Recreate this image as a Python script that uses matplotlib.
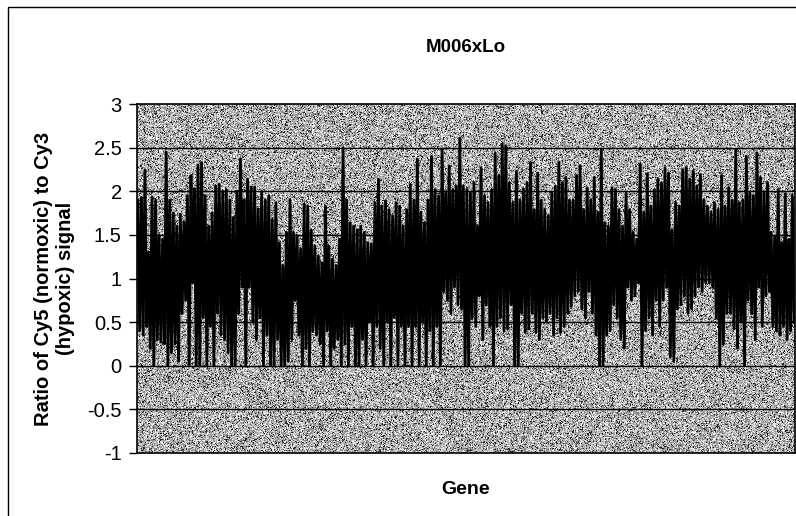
import numpy as np
import matplotlib
matplotlib.use("Agg")
import matplotlib.pyplot as plt
from matplotlib.patches import Rectangle

plt.rcParams['font.family'] = ['Liberation Sans', 'DejaVu Sans']

title = "M006xLo"
x_label = "Gene"
y_label = "Ratio of Cy5 (normoxic) to Cy3\n(hypoxic) signal"
y_ticks = [-1, -0.5, 0, 0.5, 1, 1.5, 2, 2.5, 3]
y_tick_labels = ["-1", "-0.5", "0", "0.5", "1", "1.5", "2", "2.5", "3"]

# ratio peaks / troughs, read in blocks along the gene axis
highs_a = [1.90, 1.93, 2.24, 1.30, 1.93, 1.90, 1.50, 1.45, 2.45, 1.90, 1.75, 1.60, 1.73, 1.65, 1.95, 2.18,
           2.03, 2.30, 2.33, 1.95, 1.60, 1.75, 2.06, 2.08, 2.00, 2.02, 1.90, 1.70, 2.00, 2.37, 1.90]
lows_a = [0.40, 0.35, 0.45, 0.20, 0.00, 0.30, 0.27, 0.25, 0.00, 0.15, 0.25, 0.05, 0.60, 0.75, 0.00, 0.95,
          0.00, 0.00, 0.55, 0.00, 0.45, 0.00, 0.60, 0.35, 0.30, 0.15, 0.00, 0.00, 0.60, 0.90, 0.00]

highs_b = [2.14, 2.05, 2.05, 1.80, 2.00, 1.90, 1.95, 1.68, 1.87, 1.41, 1.15, 1.53, 1.90, 1.53, 1.49, 1.34,
           1.85, 1.83, 1.56, 1.37, 1.26, 1.18, 1.83, 1.37, 1.22, 1.15, 1.45, 2.50, 1.90, 1.64, 1.60]
lows_b = [0.90, 0.50, 0.30, 0.55, 0.00, 0.35, 0.00, 0.00, 0.30, 0.00, 0.00, 0.05, 0.30, 0.75, 0.35, 0.00,
          0.20, 0.00, 0.40, 0.35, 0.25, 0.00, 0.40, 0.00, 0.20, 0.30, 0.00, 0.25, 0.00, 0.45, 0.00]

highs_c = [1.56, 1.60, 1.53, 1.41, 1.40, 1.87, 2.14, 1.83, 1.89, 1.79, 1.72, 1.87, 1.83, 1.60, 1.79, 2.08,
           1.90, 2.37, 1.76, 1.64, 1.90, 2.40, 2.02, 1.95, 2.48, 1.98, 2.29, 2.02, 2.06, 2.61, 2.06]
lows_c = [0.00, 0.30, 0.00, 0.50, 0.00, 0.45, 0.20, 0.00, 0.50, 0.00, 0.55, 0.00, 0.45, 0.00, 0.45, 0.00,
          0.45, 0.00, 0.50, 0.00, 0.40, 0.00, 0.45, 0.00, 0.85, 0.75, 0.60, 0.90, 0.70, 0.65, 0.00]

highs_d = [2.02, 1.98, 2.10, 1.60, 2.27, 1.95, 1.87, 2.02, 2.44, 2.18, 2.54, 2.52, 2.10, 1.87, 2.23, 1.90,
           2.02, 2.10, 2.33, 1.79, 2.21, 1.90, 1.79, 1.72, 1.98, 2.06, 2.33, 2.10, 2.16, 1.90, 1.90]
lows_d = [0.00, 0.55, 0.45, 0.80, 0.30, 0.70, 0.45, 0.00, 0.45, 0.55, 0.40, 0.42, 0.70, 0.00, 0.00, 0.60,
          0.38, 0.42, 0.60, 0.38, 0.30, 0.55, 0.50, 0.60, 0.35, 0.55, 0.38, 0.45, 0.60, 0.68, 0.80]

highs_e = [2.18, 2.29, 1.79, 2.04, 1.90, 2.16, 1.76, 2.48, 1.64, 1.60, 2.04, 2.02, 1.79, 1.60, 1.98, 1.79,
           1.53, 1.45, 2.31, 1.76, 2.20, 1.83, 2.02, 2.14, 2.10, 2.27, 2.21, 1.56, 1.87, 1.83, 2.25]
lows_e = [0.85, 0.65, 0.55, 0.85, 0.60, 0.35, 0.00, 0.00, 0.35, 0.40, 0.70, 0.55, 0.30, 0.20, 0.90, 0.75,
          0.80, 0.95, 0.00, 0.40, 0.55, 0.35, 0.75, 0.45, 0.75, 0.90, 0.10, 0.05, 0.65, 0.70, 0.80]

highs_f = [2.27, 2.14, 2.23, 2.06, 2.19, 1.90, 1.83, 1.76, 1.87, 1.79, 2.18, 1.83, 2.04, 1.90, 2.48, 1.87,
           1.90, 2.40, 1.98, 1.95, 2.44, 2.16, 1.98, 2.10, 1.53, 1.49, 2.02, 1.41, 1.97, 1.45, 1.95]
lows_f = [0.60, 0.65, 0.80, 0.90, 0.85, 0.95, 0.95, 0.90, 0.55, 0.00, 0.25, 0.60, 0.60, 0.42, 0.20, 0.50,
          0.00, 0.75, 0.60, 0.30, 0.90, 0.45, 0.80, 0.85, 0.45, 0.40, 0.35, 0.45, 0.30, 0.40, 0.50]

highs = highs_a + highs_b + highs_c + highs_d + highs_e + highs_f
lows = lows_a + lows_b + lows_c + lows_d + lows_e + lows_f
ratio = np.column_stack([highs, lows]).ravel()
genes = np.arange(len(ratio))

fig = plt.figure(figsize=(7.96, 5.16), dpi=100)
fig.patch.set_facecolor("white")
ax = fig.add_axes([137 / 796, 1 - 453 / 516, 658 / 796, 349 / 516])

# grainy grey plot-area fill
rng = np.random.default_rng(3)
grain = rng.choice([0.15, 0.5, 0.65, 0.8, 0.95], size=(349, 658), p=[0.12, 0.2, 0.28, 0.22, 0.18])
ax.imshow(grain, cmap="gray", vmin=0, vmax=1, extent=(-0.5, len(ratio) - 0.5, -1, 3),
          aspect="auto", interpolation="nearest", zorder=0)

for yv in y_ticks[1:-1]:
    ax.axhline(yv, color="black", lw=1.0, zorder=1)

ax.plot(genes, ratio, color="black", lw=2.0, zorder=2)

ax.set_xlim(-0.5, len(ratio) - 0.5)
ax.set_ylim(-1, 3)
ax.set_yticks(y_ticks)
ax.set_yticklabels(y_tick_labels, fontsize=14.5)
ax.set_xticks([])
ax.tick_params(axis="y", direction="out", length=6, width=1, pad=5)
for side in ax.spines.values():
    side.set_linewidth(1.2)
    side.set_color("black")

ax.set_ylabel(y_label, fontsize=14.5, fontweight="bold", linespacing=1.2, labelpad=9)
ax.set_xlabel(x_label, fontsize=14, fontweight="bold", labelpad=20)
fig.text(466 / 796, 1 - 48 / 516, title, fontsize=13.5, fontweight="bold", ha="center", va="center")

# chart-area border
fig.add_artist(Rectangle((8 / 796, -0.1), 1.2, 1.1 - 7 / 516, transform=fig.transFigure,
                         fill=False, lw=1.0, edgecolor="black"))

fig.savefig("out.png", dpi=100)
